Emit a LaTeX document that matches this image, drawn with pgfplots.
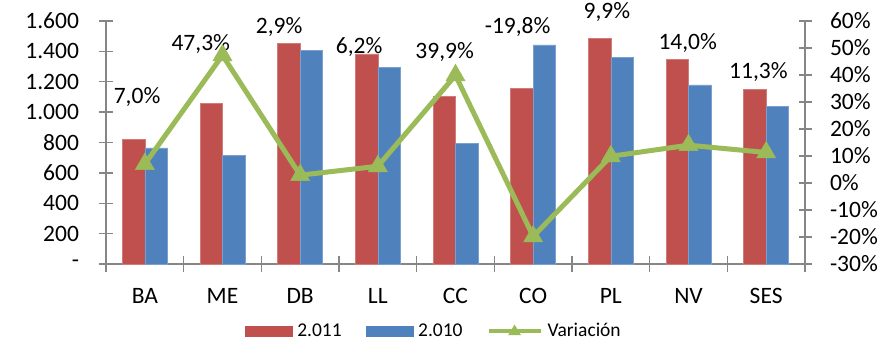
\documentclass[border=0pt]{standalone}
\usepackage{pgfplots}
\pgfplotsset{compat=1.18}
\usepackage{fontspec}
\setmainfont{Carlito}
\definecolor{cred}{HTML}{C0504D}
\definecolor{cblue}{HTML}{4F81BD}
\definecolor{cgreen}{HTML}{9BBB59}
\definecolor{caxis}{HTML}{868686}
\newcommand{\lbl}{\fontsize{23.5bp}{27bp}\selectfont}
\newcommand{\lgd}{\fontsize{19.5bp}{23bp}\selectfont}
\begin{document}
\begin{tikzpicture}
\path[use as bounding box] (0,0) rectangle (882bp,342bp);
\begin{axis}[
  at={(106bp,78bp)}, anchor=south west, scale only axis,
  width=699bp, height=243bp,
  xmin=-0.5, xmax=8.5, ymin=0, ymax=1600,
  axis y line*=left, axis x line*=bottom,
  axis line style={caxis, line width=1.3bp},
  every tick/.style={caxis, line width=1.3bp},
  tick align=center, major tick length=13bp, minor tick length=16bp,
  xtick={0,...,8},
  xticklabels={BA,ME,DB,LL,CC,CO,PL,NV,SES},
  minor xtick={-0.5,0.5,...,8.5},
  major x tick style={draw=none},
  xticklabel style={font=\lbl, yshift=-14bp},
  ytick={0,200,...,1600},
  yticklabels={-\hspace{12bp},200,400,600,800,1.000,1.200,1.400,1.600},
  yticklabel style={font=\lbl, xshift=-17bp, anchor=east},
  clip=false,
  legend style={at={(0.469,-0.2757)}, anchor=center, draw=none, fill=none,
    font=\lgd, legend columns=3,
    /tikz/every odd column/.append style={column sep=3bp},
    /tikz/every even column/.append style={column sep=22bp}},
]
\addplot[ybar, bar width=22.5bp, bar shift=-11.25bp, fill=cred, draw=cred!75!white, line width=0.6bp, forget plot]
  coordinates {(0,818) (1,1058) (2,1453) (3,1383) (4,1106) (5,1154) (6,1488) (7,1345) (8,1152)};
\addplot[ybar, bar width=22.5bp, bar shift=11.25bp, fill=cblue, draw=cblue!75!white, line width=0.6bp, forget plot]
  coordinates {(0,765) (1,716) (2,1404) (3,1297) (4,795) (5,1442) (6,1358) (7,1179) (8,1036)};
\addlegendimage{legend image code/.code={\fill[cred] (0bp,-5bp) rectangle (47bp,5bp);}}
\addlegendentry{2.011}
\addlegendimage{legend image code/.code={\fill[cblue] (0bp,-5bp) rectangle (47bp,5bp);}}
\addlegendentry{2.010}
\addlegendimage{legend image code/.code={\draw[cgreen, line width=4bp] (0bp,0bp) -- (52bp,0bp);
   \fill[cgreen] (20bp,-4bp) -- (32bp,-4bp) -- (26bp,6bp) -- cycle;}}
\addlegendentry{Variación}
\node[font=\lbl] at (axis cs:-0.10,1100) {7,0\%};
\node[font=\lbl] at (axis cs:0.72,1449) {47,3\%};
\node[font=\lbl] at (axis cs:1.73,1560) {2,9\%};
\node[font=\lbl] at (axis cs:2.76,1429) {6,2\%};
\node[font=\lbl] at (axis cs:3.86,1396) {39,9\%};
\node[font=\lbl] at (axis cs:4.80,1560) {-19,8\%};
\node[font=\lbl] at (axis cs:5.95,1659) {9,9\%};
\node[font=\lbl] at (axis cs:6.99,1455) {14,0\%};
\node[font=\lbl] at (axis cs:7.90,1264) {11,3\%};
\end{axis}
\begin{axis}[
  at={(106bp,78bp)}, anchor=south west, scale only axis,
  width=699bp, height=243bp,
  xmin=-0.5, xmax=8.5, ymin=-30, ymax=60,
  axis y line*=right, axis x line=none,
  axis line style={caxis, line width=1.3bp},
  every tick/.style={caxis, line width=1.3bp},
  tick align=center, major tick length=13bp,
  ytick={-30,-20,...,60},
  yticklabels={-30\%,-20\%,-10\%,0\%,10\%,20\%,30\%,40\%,50\%,60\%},
  yticklabel style={font=\lbl, xshift=15bp, anchor=west},
  clip=false,
]
\addplot[cgreen, line width=5bp, mark=triangle*, mark size=11bp, mark options={solid, line width=0.5bp}]
  coordinates {(0,7.0) (1,47.3) (2,2.9) (3,6.2) (4,39.9) (5,-19.8) (6,9.9) (7,14.0) (8,11.3)};
\end{axis}
\end{tikzpicture}
\end{document}
